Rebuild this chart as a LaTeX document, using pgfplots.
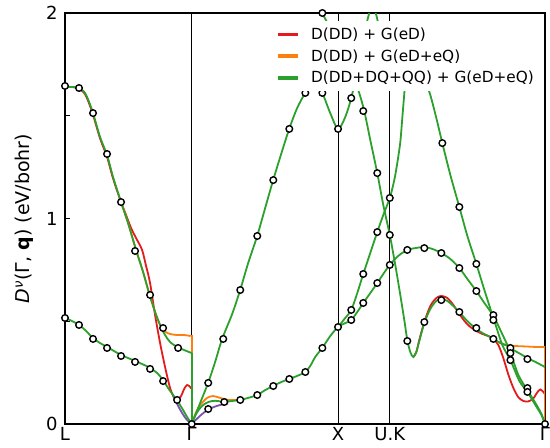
\documentclass[border=0pt]{standalone}
\usepackage{fontspec}
\setmainfont{DejaVu Sans}
\usepackage{pgfplots}
\pgfplotsset{compat=1.18}

\definecolor{lnred}{HTML}{E41A1C}
\definecolor{lnorange}{HTML}{FF7F0E}
\definecolor{lngreen}{HTML}{2CA02C}
\definecolor{lnpurple}{HTML}{7B52AE}

\newcommand{\legfont}{\fontsize{15.3}{17}\selectfont}

\begin{document}
\begin{tikzpicture}
\begin{axis}[
  scale only axis, width=480pt, height=411pt,
  xmin=0, xmax=3.2803, ymin=0, ymax=2,
  xtick={0,0.866,1.866,2.2196,3.2803},
  xticklabels={L,Γ,X,U.K,Γ},
  ytick={0,1,2}, minor ytick={0.5,1.5},
  tick align=inside, xtick pos=bottom, ytick pos=left,
  major tick length=5pt, minor tick length=5pt,
  xmajorgrids, major grid style={black, line width=0.8pt},
  major x tick style={draw=none},
  axis line style={line width=1.6pt},
  tick style={black, line width=1.2pt},
  ticklabel style={font=\fontsize{18}{20}\selectfont},
  yticklabel style={xshift=-4pt},
  /pgf/number format/assume math mode=true,
  ylabel={{\itshape D\textsuperscript{ν}}(Γ, \textbf{q}) (eV/bohr)},
  ylabel style={font=\fontsize{19}{21}\selectfont, yshift=6pt},
  legend style={at={(rel axis cs:0.9896,0.981)}, anchor=north east,
    draw=none, fill=white,
    row sep=4.5pt, inner xsep=4pt, inner ysep=5pt},
  legend cell align=left,
  every axis plot/.append style={line width=1.8pt},
]
\addlegendimage{legend image code/.code={\fill[lnred] (0pt,-0.9pt) rectangle (18pt,0.9pt);}}
\addlegendentry{\legfont\hspace{11pt}D(DD) + G(eD)}
\addlegendimage{legend image code/.code={\fill[lnorange] (0pt,-0.9pt) rectangle (18pt,0.9pt);}}
\addlegendentry{\legfont\hspace{11pt}D(DD) + G(eD+eQ)}
\addlegendimage{legend image code/.code={\fill[lngreen] (0pt,-0.9pt) rectangle (18pt,0.9pt);}}
\addlegendentry{\legfont\hspace{11pt}D(DD+DQ+QQ) + G(eD+eQ)}

% red: D(DD) + G(eD), where it leaves the others
\addplot[lnred, smooth, forget plot] coordinates {
 (0,1.640)(0.0479,1.640)(0.0889,1.633)(0.1368,1.605)(0.1847,1.520)(0.2394,1.390)
 (0.2873,1.300)(0.3283,1.195)(0.3830,1.080)(0.4172,1.017)(0.4514,0.954)(0.4856,0.905)
 (0.5267,0.847)(0.5540,0.769)(0.5814,0.686)(0.6156,0.530)(0.6498,0.394)(0.6840,0.277)
 (0.7182,0.175)(0.7456,0.131)(0.7729,0.122)(0.7934,0.136)(0.8140,0.170)(0.8345,0.190)
 (0.8550,0.180)(0.866,0.170)};
\addplot[lnred, forget plot] coordinates {(0.866,0.170)(0.866,0)};
\addplot[lnred, smooth, forget plot] coordinates {
 (2.3803,0.326)(2.4008,0.350)(2.4213,0.409)(2.4555,0.496)(2.4966,0.574)(2.5376,0.613)
 (2.5718,0.623)(2.6129,0.613)(2.6539,0.579)(2.6949,0.535)(2.7360,0.496)(2.7702,0.472)
 (2.8112,0.453)(2.8523,0.438)(2.8933,0.428)(2.9275,0.414)(2.9617,0.384)(2.9959,0.320)
 (3.0301,0.240)(3.0643,0.175)(3.0985,0.130)(3.1327,0.112)(3.1669,0.110)(3.2011,0.125)
 (3.2285,0.155)(3.2490,0.168)(3.2695,0.155)(3.2803,0.145)};
\addplot[lnred, forget plot] coordinates {(3.2803,0.145)(3.2803,0)};

% orange: D(DD) + G(eD+eQ)
\addplot[lnorange, smooth, forget plot] coordinates {
 (0.3830,1.080)(0.4309,0.978)(0.4856,0.847)(0.5335,0.740)(0.5746,0.637)(0.6156,0.545)
 (0.6498,0.482)(0.6840,0.450)(0.7182,0.438)(0.7661,0.433)(0.8140,0.433)(0.8596,0.428)};
\addplot[lnorange, forget plot] coordinates {(0.8596,0.428)(0.866,0.428)(0.866,0)};
\addplot[lnorange, smooth, forget plot] coordinates {
 (0.866,0)(0.8960,0.058)(0.9302,0.097)(0.9713,0.127)(1.0123,0.136)(1.0602,0.127)
 (1.1149,0.117)(1.1696,0.117)};
\addplot[lnorange, smooth, forget plot] coordinates {
 (2.9275,0.414)(2.9754,0.394)(3.0233,0.384)(3.0643,0.380)(3.1601,0.377)(3.2148,0.375)
 (3.2729,0.375)};
\addplot[lnorange, forget plot] coordinates {(3.2729,0.375)(3.2803,0.375)(3.2803,0)};

% purple trace under the green near Gamma
\addplot[lnpurple, smooth, forget plot] coordinates {
 (0.7387,0.136)(0.7866,0.070)(0.8276,0.025)(0.866,0)};
\addplot[lnpurple, smooth, forget plot] coordinates {
 (0.866,0)(0.9234,0.040)(0.9781,0.070)(1.0465,0.090)(1.1149,0.100)};

% green: D(DD+DQ+QQ) + G(eD+eQ)
\addplot[lngreen, smooth, forget plot] coordinates {
 (0,1.640)(0.0479,1.640)(0.0889,1.635)(0.1368,1.611)(0.1847,1.528)(0.2394,1.397)
 (0.2873,1.309)(0.3283,1.202)(0.3830,1.080)(0.4309,0.978)(0.4856,0.847)(0.5335,0.740)
 (0.5746,0.637)(0.6156,0.545)(0.6498,0.482)(0.6840,0.433)(0.7182,0.399)(0.7661,0.375)
 (0.8140,0.360)(0.866,0.345)};
\addplot[lngreen, forget plot] coordinates {(0.866,0.345)(0.866,0)};
\addplot[lngreen, smooth, forget plot] coordinates {
 (0,0.516)(0.0479,0.501)(0.0958,0.482)(0.1436,0.453)(0.1915,0.418)(0.2394,0.394)
 (0.2873,0.375)(0.3352,0.355)(0.3830,0.336)(0.4309,0.321)(0.4788,0.307)(0.5267,0.292)
 (0.5814,0.273)(0.6293,0.248)(0.6703,0.214)(0.7045,0.175)(0.7387,0.141)(0.7729,0.107)
 (0.8071,0.068)(0.8345,0.034)(0.866,0)};
\addplot[lngreen, smooth, forget plot] coordinates {
 (0.866,0)(0.9234,0.102)(0.9781,0.200)(1.0260,0.302)(1.0739,0.414)(1.1423,0.535)
 (1.1970,0.652)(1.2517,0.783)(1.3133,0.915)(1.3680,1.051)(1.4227,1.187)(1.4774,1.314)
 (1.5322,1.436)(1.5869,1.538)(1.6416,1.611)(1.6963,1.674)(1.7579,1.611)(1.8126,1.513)
 (1.866,1.436)(1.9152,1.494)(1.9562,1.586)(1.9904,1.698)(2.0246,1.820)(2.0588,1.942)
 (2.0930,2.024)(2.1272,1.990)(2.1546,1.893)(2.1819,1.796)};
\addplot[lngreen, smooth, forget plot] coordinates {
 (0.866,0)(0.8960,0.049)(0.9302,0.083)(0.9644,0.102)(1.0055,0.112)(1.0465,0.112)
 (1.0807,0.107)(1.1423,0.112)(1.1970,0.117)(1.2517,0.127)(1.3133,0.141)(1.3680,0.165)
 (1.4227,0.185)(1.4774,0.204)(1.5322,0.219)(1.5869,0.234)(1.6416,0.253)(1.6758,0.282)
 (1.7100,0.326)(1.7579,0.370)(1.8126,0.428)(1.866,0.472)(1.9152,0.491)(1.9562,0.506)
 (1.9973,0.545)(2.0383,0.589)(2.0862,0.637)(2.1341,0.686)(2.1751,0.730)(2.2196,0.774)
 (2.2777,0.818)(2.3393,0.847)(2.3940,0.856)(2.4555,0.861)(2.5103,0.852)(2.5718,0.832)
 (2.6334,0.803)(2.6949,0.759)(2.7497,0.706)(2.8112,0.647)(2.8660,0.589)(2.9275,0.526)
 (2.9754,0.457)(3.0233,0.384)(3.0438,0.350)(3.0985,0.238)(3.1601,0.165)(3.2148,0.102)
 (3.2558,0.049)(3.2803,0)};
\addplot[lngreen, smooth, forget plot] coordinates {
 (1.866,0.472)(1.9152,0.516)(1.9562,0.555)(1.9973,0.637)(2.0383,0.730)(2.0862,0.832)
 (2.1341,0.934)(2.1751,1.017)(2.2196,1.100)(2.2503,1.187)(2.2709,1.270)(2.2914,1.372)
 (2.3051,1.489)(2.3153,1.577)(2.3256,1.650)(2.3598,1.747)(2.3940,1.796)(2.4282,1.747)
 (2.4624,1.670)(2.4966,1.601)(2.5376,1.489)(2.5787,1.367)(2.6334,1.212)(2.6949,1.056)
 (2.7497,0.915)(2.8112,0.779)(2.8660,0.652)(2.9275,0.516)(2.9891,0.384)(3.0438,0.311)
 (3.1053,0.209)(3.1601,0.156)(3.2148,0.092)(3.2558,0.044)(3.2803,0)};
\addplot[lngreen, smooth, forget plot] coordinates {
 (1.7442,2.039)(1.7579,2.0)(1.8126,1.927)(1.8810,1.830)(1.9494,1.723)(2.0041,1.625)
 (2.0451,1.523)(2.0862,1.382)(2.1341,1.221)(2.1751,1.066)(2.2196,0.920)(2.2571,0.774)
 (2.2914,0.628)(2.3187,0.506)(2.3393,0.409)(2.3598,0.350)(2.3803,0.326)(2.4008,0.350)
 (2.4213,0.404)(2.4555,0.491)(2.4966,0.560)(2.5376,0.599)(2.5718,0.608)(2.6129,0.599)
 (2.6539,0.574)(2.6949,0.545)(2.7360,0.511)(2.7702,0.487)(2.8112,0.462)(2.8523,0.443)
 (2.8933,0.428)(2.9275,0.414)(2.9754,0.394)(3.0233,0.380)(3.0643,0.360)(3.1122,0.341)
 (3.1601,0.321)(3.2148,0.302)(3.2803,0.277)};

% reference points
\addplot[only marks, mark=*, mark size=3.3pt,
  mark options={draw=black, fill=white, line width=1.4pt}, forget plot] coordinates {
 (0,1.645)(0.0958,1.635)(0.1915,1.513)(0.2873,1.314)(0.3830,1.080)(0.4788,0.842)
 (0.5814,0.628)(0.6703,0.467)(0.7729,0.370)
 (0,0.516)(0.0958,0.482)(0.1915,0.414)(0.2873,0.370)(0.3830,0.331)(0.4788,0.302)
 (0.5814,0.268)(0.6703,0.209)(0.7661,0.117)
 (0.866,0)
 (0.9789,0.200)(1.0815,0.414)(1.1977,0.652)(1.3140,0.915)(1.4235,1.187)(1.5329,1.436)
 (1.6424,1.611)(1.7587,1.611)(1.866,1.436)(1.7587,2.0)
 (0.9789,0.073)(1.0883,0.107)(1.1977,0.117)(1.3140,0.141)(1.4235,0.185)(1.5329,0.219)
 (1.6424,0.253)(1.7587,0.370)(1.866,0.472)
 (1.9562,1.586)(2.0383,1.523)(1.9562,0.555)(1.9562,0.506)(2.0383,0.730)(2.0383,0.589)
 (2.1341,1.221)(2.1341,0.934)(2.1341,0.686)(2.2196,1.100)(2.2196,0.920)(2.2196,0.774)
 (2.3393,0.404)(2.4556,0.496)(2.5718,0.603)(2.6949,0.545)(2.8112,0.467)(2.9275,0.414)
 (2.3393,0.847)(2.4556,0.856)(2.5718,0.832)(2.6949,0.759)(2.8112,0.647)(2.9275,0.530)
 (2.5787,1.367)(2.6949,1.056)(2.8112,0.779)(2.9275,0.506)
 (3.0438,0.370)(3.0438,0.345)(3.0438,0.311)(3.1601,0.316)(3.1601,0.175)(3.1601,0.156)
 (3.2803,0)};
\end{axis}
\pgfresetboundingbox
\path[use as bounding box] (-65pt,-24pt) rectangle (485pt,424pt);
\end{tikzpicture}
\end{document}
